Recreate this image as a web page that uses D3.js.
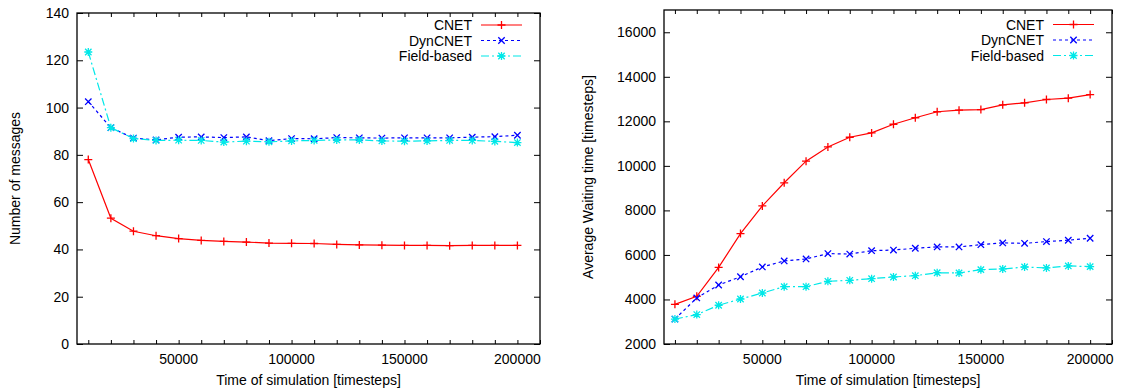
<!DOCTYPE html>
<html>
<head>
<meta charset="utf-8">
<script src="https://cdn.jsdelivr.net/npm/d3@7"></script>
<style>
  body { margin: 0; background: #fff; }
  svg { display: block; font-family: "Liberation Sans", Arial, sans-serif; }
</style>
</head>
<body>
<svg id="chart" width="1122" height="392"></svg>
<script>
// x values (timesteps)
const steps = [10000, 20000, 30000, 40000, 50000, 60000, 70000, 80000, 90000, 100000,
  110000, 120000, 130000, 140000, 150000, 160000, 170000, 180000, 190000, 200000];
const seriesNames = ["CNET", "DynCNET", "Field-based"];
const xTickLabels = [50000, 100000, 150000, 200000];

// left panel: number of messages
const msgCnet = [78, 53.2, 47.7, 45.8, 44.6, 43.8, 43.4, 43.1, 42.7, 42.6,
  42.5, 42.1, 41.9, 41.8, 41.7, 41.7, 41.6, 41.7, 41.7, 41.7];
const msgDyn = [102.5, 91.5, 87.1, 86.3, 87.5, 87.6, 87.3, 87.6, 86.0, 86.9,
  86.8, 87.3, 87.2, 87.1, 87.2, 87.2, 87.2, 87.5, 87.7, 88.3];
const msgField = [123.5, 91.5, 86.9, 86.1, 86.2, 86.1, 85.4, 85.8, 85.5, 85.9,
  86.1, 86.3, 86.3, 85.9, 85.8, 85.9, 86.1, 86.1, 85.7, 85.2];
const msgTicks = [0, 20, 40, 60, 80, 100, 120, 140];

// right panel: average waiting time
const waitCnet = [3780, 4140, 5440, 6960, 8200, 9240, 10210, 10850, 11285, 11480,
  11870, 12160, 12430, 12500, 12530, 12740, 12830, 12980, 13040, 13200];
const waitDyn = [3120, 4070, 4650, 5020, 5460, 5730, 5820, 6060, 6040, 6190,
  6220, 6300, 6360, 6360, 6460, 6540, 6520, 6600, 6660, 6750];
const waitField = [3120, 3320, 3740, 4020, 4290, 4575, 4575, 4815, 4860, 4935,
  5010, 5070, 5200, 5190, 5340, 5370, 5460, 5415, 5505, 5475];
const waitTicks = [2000, 4000, 6000, 8000, 10000, 12000, 14000, 16000];

const svg = d3.select("#chart");
const styles = [
  { color: "#ff0000", dash: null, mark: "plus" },
  { color: "#0000ff", dash: "3,3", mark: "cross" },
  { color: "#00e8e8", dash: "8,3,2,3", mark: "star" }
];

function markPath(type, r) {
  const p = d3.path();
  if (type === "plus" || type === "star") {
    p.moveTo(-r, 0); p.lineTo(r, 0); p.moveTo(0, -r); p.lineTo(0, r);
  }
  if (type === "cross" || type === "star") {
    const q = r * 0.8;
    p.moveTo(-q, -q); p.lineTo(q, q); p.moveTo(-q, q); p.lineTo(q, -q);
  }
  return p.toString();
}

function panel(box, yDomain, yTicks, series, yTitle, legendY) {
  const x = d3.scaleLinear().domain([5000, 210000]).range([box.left, box.right]);
  const y = d3.scaleLinear().domain(yDomain).range([box.bottom, box.top]);
  const g = svg.append("g");

  // ticks (bottom/top every 10000, left/right at y ticks), drawn inward
  const allX = d3.range(10000, 210001, 10000);
  g.append("g").attr("transform", `translate(0,${box.bottom})`)
    .call(d3.axisBottom(x).tickValues(allX).tickSize(-4).tickFormat(""))
    .call(a => a.select(".domain").remove());
  g.append("g").attr("transform", `translate(0,${box.top})`)
    .call(d3.axisTop(x).tickValues(allX).tickSize(-4).tickFormat(""))
    .call(a => a.select(".domain").remove());
  g.append("g").attr("transform", `translate(${box.left},0)`)
    .call(d3.axisLeft(y).tickValues(yTicks).tickSize(-6).tickFormat(""))
    .call(a => a.select(".domain").remove());
  g.append("g").attr("transform", `translate(${box.right},0)`)
    .call(d3.axisRight(y).tickValues(yTicks).tickSize(-6).tickFormat(""))
    .call(a => a.select(".domain").remove());
  g.selectAll(".tick line").attr("stroke", "#000");

  // tick labels
  g.selectAll(".xl").data(xTickLabels).enter().append("text")
    .attr("x", d => x(d)).attr("y", box.bottom + 20)
    .attr("text-anchor", "middle").attr("font-size", 14).text(d => d);
  g.selectAll(".yl").data(yTicks).enter().append("text")
    .attr("x", box.left - 8).attr("y", d => y(d) + 5)
    .attr("text-anchor", "end").attr("font-size", 14).text(d => d);

  // frame
  g.append("rect").attr("x", box.left).attr("y", box.top)
    .attr("width", box.right - box.left).attr("height", box.bottom - box.top)
    .attr("fill", "none").attr("stroke", "#000").attr("stroke-width", 1.3);

  // titles
  g.append("text").attr("x", (box.left + box.right) / 2).attr("y", box.bottom + 41)
    .attr("text-anchor", "middle").attr("font-size", 14)
    .text("Time of simulation [timesteps]");
  g.append("text")
    .attr("transform", `translate(${box.left - box.yTitleOff},${(box.top + box.bottom) / 2}) rotate(-90)`)
    .attr("text-anchor", "middle").attr("font-size", 14).text(yTitle);

  const line = d3.line().x((d, i) => x(steps[i])).y(d => y(d));
  series.forEach((vals, k) => {
    const st = styles[k];
    g.append("path").attr("d", line(vals)).attr("fill", "none")
      .attr("stroke", st.color).attr("stroke-width", 1.2)
      .attr("stroke-dasharray", st.dash);
    g.selectAll(null).data(vals).enter().append("path")
      .attr("transform", (d, i) => `translate(${x(steps[i])},${y(d)})`)
      .attr("d", markPath(st.mark, 4)).attr("fill", "none")
      .attr("stroke", st.color).attr("stroke-width", 1.3);

    // legend
    const ly = legendY + k * 15.5;
    const lx1 = box.right - 59, lx2 = box.right - 18;
    g.append("text").attr("x", lx1 - 9).attr("y", ly + 5)
      .attr("text-anchor", "end").attr("font-size", 14).text(seriesNames[k]);
    g.append("line").attr("x1", lx1).attr("x2", lx2).attr("y1", ly).attr("y2", ly)
      .attr("stroke", st.color).attr("stroke-width", 1.2)
      .attr("stroke-dasharray", st.dash);
    g.append("path").attr("transform", `translate(${(lx1 + lx2) / 2},${ly})`)
      .attr("d", markPath(st.mark, 4)).attr("fill", "none")
      .attr("stroke", st.color).attr("stroke-width", 1.3);
  });
}

panel({ left: 77, right: 540, top: 13, bottom: 344, yTitleOff: 57 },
  [0, 140], msgTicks, [msgCnet, msgDyn, msgField], "Number of messages", 25);
panel({ left: 664, right: 1112, top: 10, bottom: 344, yTitleOff: 71 },
  [2000, 17000], waitTicks, [waitCnet, waitDyn, waitField], "Average Waiting time [timesteps]", 24.5);
</script>
</body>
</html>
